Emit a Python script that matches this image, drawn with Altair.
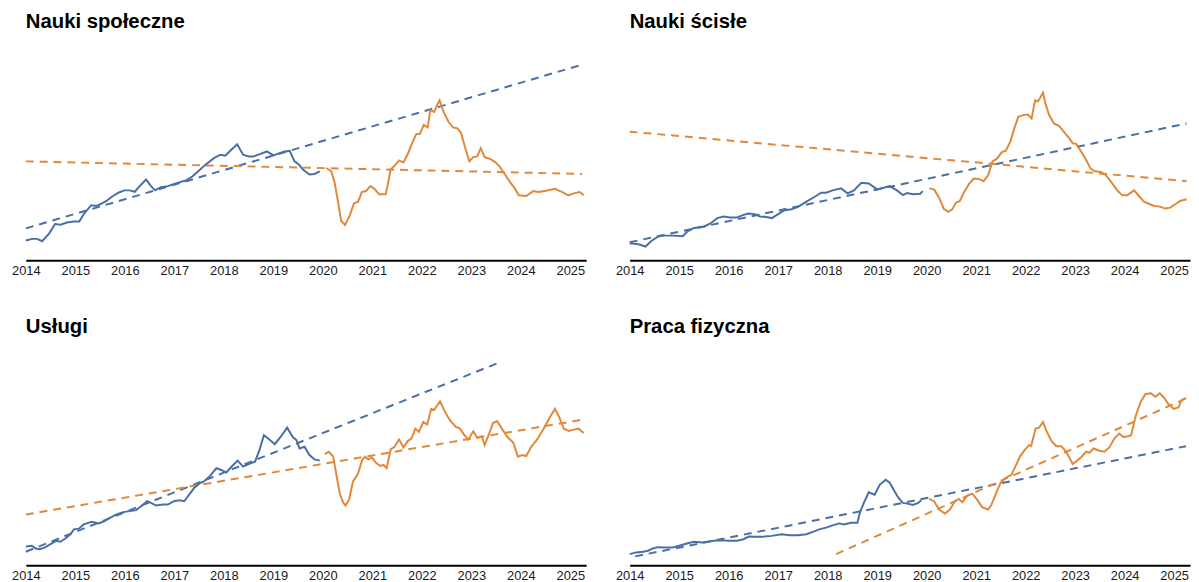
import altair as alt
import pandas as pd

YEARS = list(range(2014, 2026))
X_DOMAIN = [2014, 2025.32]
Y_DOMAIN = [-1, 214]
BLUE = "#4A6FA5"
ORANGE = "#E0893A"
FONT = "Liberation Sans"

# ---------------- Nauki społeczne ----------------
ns_blue_x = [2014.00, 2014.13, 2014.23, 2014.33, 2014.47, 2014.59, 2014.70, 2014.83, 2014.97, 2015.08,
             2015.17, 2015.32, 2015.43, 2015.53, 2015.63, 2015.73, 2015.87, 2015.99, 2016.10, 2016.20,
             2016.30, 2016.43, 2016.53, 2016.61, 2016.73, 2016.87, 2017.00, 2017.13, 2017.23, 2017.37,
             2017.50, 2017.63, 2017.80, 2017.93, 2018.03, 2018.13, 2018.27, 2018.39, 2018.50, 2018.60,
             2018.73, 2018.87, 2019.00, 2019.13, 2019.23, 2019.33, 2019.43, 2019.52, 2019.60, 2019.73,
             2019.83, 2019.94]
ns_blue_y = [19, 20.7, 20.7, 18.3, 26, 35.7, 35, 37.3, 38.3, 38.3,
             45.7, 54.7, 54, 56.3, 59, 63, 67.3, 69.7, 69.7, 68.3,
             74, 80.7, 74, 69.7, 73, 74, 76.3, 78.3, 79.7, 84,
             89.7, 95.7, 102.3, 105.7, 104.7, 109.7, 116.3, 105.7, 104, 104,
             106.3, 109, 105, 107.3, 109, 109.7, 99, 95.7, 90.7, 85.7,
             86.3, 89]
ns_orange_x = [2020.07, 2020.17, 2020.24, 2020.31, 2020.37, 2020.45, 2020.54, 2020.63, 2020.71, 2020.79,
               2020.87, 2020.96, 2021.04, 2021.14, 2021.27, 2021.32, 2021.37, 2021.47, 2021.54, 2021.63,
               2021.71, 2021.81, 2021.89, 2021.96, 2022.04, 2022.12, 2022.17, 2022.25, 2022.31, 2022.36,
               2022.44, 2022.54, 2022.63, 2022.72, 2022.79, 2022.87, 2022.96, 2023.04, 2023.12, 2023.19,
               2023.27, 2023.39, 2023.49, 2023.57, 2023.65, 2023.77, 2023.87, 2023.96, 2024.11, 2024.25,
               2024.36, 2024.51, 2024.69, 2024.84, 2024.96, 2025.07, 2025.19, 2025.27]
ns_orange_y = [92.3, 89, 77.3, 57.3, 39, 34.7, 44, 56.7, 58, 68,
               69, 74, 71.3, 65.7, 65.7, 77.3, 90.7, 95.7, 100, 98,
               105.7, 118, 126.7, 126.7, 135.7, 133.3, 150.7, 149, 155.7, 160.7,
               149, 139, 133.3, 132.3, 128, 114, 99, 103.3, 104, 112.3,
               103.3, 101.3, 98, 94, 88, 79, 72.3, 64.7, 64, 69,
               68, 69.3, 71.3, 68, 64.7, 66.7, 68, 64.7]
ns_blue_trend_x = [2014.0, 2025.24]
ns_blue_trend_y = [31.3, 196.7]
ns_orange_trend_x = [2014.0, 2025.24]
ns_orange_trend_y = [99, 86.3]

# ---------------- Nauki ścisłe ----------------
sc_blue_x = [2014.00, 2014.10, 2014.20, 2014.32, 2014.43, 2014.57, 2014.70, 2014.87, 2015.07, 2015.17,
             2015.30, 2015.50, 2015.63, 2015.77, 2015.90, 2016.03, 2016.17, 2016.30, 2016.40, 2016.53,
             2016.63, 2016.73, 2016.87, 2017.00, 2017.13, 2017.27, 2017.40, 2017.57, 2017.73, 2017.87,
             2017.97, 2018.10, 2018.27, 2018.40, 2018.53, 2018.68, 2018.83, 2019.00, 2019.13, 2019.25,
             2019.40, 2019.52, 2019.60, 2019.73, 2019.87, 2019.92]
sc_blue_y = [16.3, 15.7, 15, 13, 18.3, 23, 24, 24, 23.3, 28.3,
             31.7, 33, 36.3, 41.7, 43.3, 42.3, 42.3, 45, 46.3, 45.7,
             43.3, 43, 41.7, 45.7, 49.7, 50.7, 53, 58.3, 63, 67.3,
             67.3, 69.7, 71.7, 66.7, 69.7, 77.3, 76.7, 70.7, 72.3, 74,
             69.7, 65, 67, 65.7, 66.3, 69]
sc_orange_x = [2020.05, 2020.15, 2020.25, 2020.35, 2020.44, 2020.52, 2020.59, 2020.67, 2020.75, 2020.85,
               2020.95, 2021.05, 2021.15, 2021.24, 2021.33, 2021.42, 2021.52, 2021.60, 2021.69, 2021.77,
               2021.85, 2021.95, 2022.04, 2022.12, 2022.19, 2022.25, 2022.29, 2022.35, 2022.40, 2022.47,
               2022.57, 2022.67, 2022.77, 2022.89, 2022.95, 2023.02, 2023.12, 2023.22, 2023.31, 2023.40,
               2023.52, 2023.62, 2023.73, 2023.85, 2023.95, 2024.05, 2024.19, 2024.29, 2024.39, 2024.51,
               2024.60, 2024.71, 2024.82, 2024.92, 2025.02, 2025.12, 2025.25]
sc_orange_y = [71.7, 70.7, 62.3, 50.7, 48, 50.7, 57.3, 59, 67.3, 75.7,
               81.7, 81.3, 79, 85, 99, 101.7, 108.3, 109.7, 119, 132.3,
               144, 145.7, 146.3, 142.3, 160.7, 159.7, 163, 168.3, 157.3, 146.3,
               137.3, 135, 129, 121.7, 117.3, 116.7, 109, 100.7, 91.7, 89,
               88.3, 85, 78, 69.7, 64.7, 64.7, 69.7, 64, 58.3, 55.7,
               54, 53.3, 51.3, 52.3, 55.7, 59, 60.7]
sc_blue_trend_x = [2014.0, 2025.25]
sc_blue_trend_y = [17.3, 137.3]
sc_orange_trend_x = [2014.0, 2025.25]
sc_orange_trend_y = [129, 79]

# ---------------- Usługi ----------------
us_blue_x = [2014.00, 2014.12, 2014.20, 2014.28, 2014.39, 2014.50, 2014.61, 2014.70, 2014.80, 2014.90,
             2014.97, 2015.07, 2015.17, 2015.33, 2015.47, 2015.59, 2015.70, 2015.83, 2015.97, 2016.10,
             2016.23, 2016.33, 2016.45, 2016.53, 2016.63, 2016.77, 2016.87, 2016.99, 2017.10, 2017.20,
             2017.30, 2017.40, 2017.52, 2017.60, 2017.72, 2017.85, 2017.95, 2018.05, 2018.17, 2018.28,
             2018.39, 2018.50, 2018.63, 2018.72, 2018.81, 2018.92, 2019.03, 2019.17, 2019.28, 2019.39,
             2019.47, 2019.53, 2019.63, 2019.73, 2019.83, 2019.94]
us_blue_y = [18, 18.7, 16, 15.3, 17, 20.3, 23.7, 22.7, 26, 30.3,
             35.3, 36, 40.3, 43, 41.3, 43.7, 47, 50.3, 52.7, 53.7,
             54.7, 58.7, 63.7, 62, 59.3, 60.3, 60.3, 63.7, 64.7, 63.7,
             70.3, 77, 82, 83.7, 89.3, 97, 95.3, 92.7, 99.3, 104.7,
             98.7, 101.3, 103.7, 115.3, 130.3, 126, 121.3, 130.3, 138, 128.7,
             125.3, 117, 118.7, 110.3, 106, 104.7]
us_orange_x = [2020.04, 2020.12, 2020.21, 2020.27, 2020.34, 2020.41, 2020.46, 2020.53, 2020.61, 2020.71,
               2020.79, 2020.85, 2020.92, 2020.99, 2021.07, 2021.16, 2021.23, 2021.29, 2021.37, 2021.45,
               2021.54, 2021.63, 2021.72, 2021.79, 2021.87, 2021.94, 2022.03, 2022.11, 2022.19, 2022.25,
               2022.37, 2022.47, 2022.57, 2022.69, 2022.77, 2022.85, 2022.94, 2023.04, 2023.12, 2023.21,
               2023.27, 2023.36, 2023.44, 2023.52, 2023.63, 2023.74, 2023.85, 2023.94, 2024.03, 2024.11,
               2024.21, 2024.32, 2024.45, 2024.57, 2024.69, 2024.77, 2024.87, 2024.97, 2025.07, 2025.17,
               2025.27]
us_orange_y = [111.3, 113.7, 108.7, 92, 72, 62.7, 59.3, 65.3, 83.7, 91.3,
               104.7, 108.7, 106, 108, 102.7, 99.3, 100.3, 97, 116, 118.7,
               126, 118, 124.7, 127, 137, 133.7, 143.7, 141.3, 157, 156,
               164.7, 153.7, 145.3, 138.7, 137, 131.3, 126, 134.3, 127.7, 129.3,
               120.3, 132, 142.7, 144.7, 136, 128, 122.7, 108.7, 110.3, 109.3,
               118.7, 125.3, 136, 147, 157, 149.3, 137, 134.7, 136, 137,
               132.7]
us_blue_trend_x = [2014.0, 2023.61]
us_blue_trend_y = [12.7, 204.7]
us_orange_trend_x = [2014.0, 2025.24]
us_orange_trend_y = [50.3, 146]

# ---------------- Praca fizyczna ----------------
pf_blue_x = [2014.00, 2014.13, 2014.27, 2014.37, 2014.47, 2014.57, 2014.70, 2014.87, 2015.00, 2015.17,
             2015.30, 2015.47, 2015.57, 2015.70, 2015.83, 2016.00, 2016.17, 2016.30, 2016.40, 2016.53,
             2016.67, 2016.87, 2017.07, 2017.23, 2017.40, 2017.57, 2017.70, 2017.83, 2017.97, 2018.10,
             2018.23, 2018.33, 2018.47, 2018.60, 2018.65, 2018.73, 2018.83, 2018.95, 2019.05, 2019.17,
             2019.25, 2019.35, 2019.43, 2019.52, 2019.61, 2019.72, 2019.83, 2019.89]
pf_blue_y = [10.3, 12, 12.7, 13.7, 16, 17.3, 17, 17, 18.7, 21.3,
             22.7, 22, 22.7, 23.7, 24.3, 23.7, 23.7, 25.3, 28, 27.7,
             27.7, 28.7, 30.3, 29.3, 29.3, 30.3, 32.7, 35.3, 37, 39.3,
             41.3, 40.3, 42, 42, 52, 62, 72.7, 70.3, 80.3, 85.3,
             82.7, 73.7, 67, 62, 61.3, 60, 62, 64.7]
pf_orange_x = [2020.05, 2020.15, 2020.25, 2020.37, 2020.47, 2020.57, 2020.65, 2020.72, 2020.82, 2020.92,
               2021.02, 2021.12, 2021.24, 2021.31, 2021.39, 2021.49, 2021.59, 2021.71, 2021.79, 2021.89,
               2021.99, 2022.07, 2022.11, 2022.20, 2022.27, 2022.35, 2022.42, 2022.52, 2022.62, 2022.72,
               2022.82, 2022.95, 2023.04, 2023.13, 2023.22, 2023.29, 2023.37, 2023.49, 2023.59, 2023.69,
               2023.79, 2023.89, 2023.97, 2024.07, 2024.13, 2024.22, 2024.32, 2024.42, 2024.53, 2024.62,
               2024.71, 2024.80, 2024.89, 2024.99, 2025.09, 2025.15, 2025.24]
pf_orange_y = [66, 63.7, 55.3, 51.3, 55.3, 63.7, 66, 62.7, 69.3, 71.3,
               65.3, 57.7, 55.3, 60.3, 70.3, 82, 87, 90.3, 98.7, 109.3,
               116, 120.3, 119.3, 137, 138, 143.7, 134.7, 124.7, 119.3, 119.3,
               113.7, 101.3, 104.7, 108.7, 113.7, 112.7, 117, 114.7, 113.7, 118,
               127, 132, 128.7, 129.3, 130.3, 149.3, 163.7, 172, 172.7, 169.3,
               172.7, 168, 161.3, 157, 158.7, 166, 168]
pf_blue_trend_x = [2014.11, 2025.24]
pf_blue_trend_y = [8, 119.3]
pf_orange_trend_x = [2018.17, 2025.22]
pf_orange_trend_y = [10.3, 167]


def panel(title, bx, by, ox, oy, btx, bty, otx, oty):
    solid = pd.DataFrame({
        "rok": bx + ox,
        "wartosc": by + oy,
        "okres": ["przed"] * len(bx) + ["po"] * len(ox),
    })
    trend = pd.DataFrame({
        "rok": btx + otx,
        "wartosc": bty + oty,
        "okres": ["przed"] * len(btx) + ["po"] * len(otx),
    })
    x = alt.X(
        "rok:Q",
        scale=alt.Scale(domain=X_DOMAIN, nice=False, zero=False),
        axis=alt.Axis(
            values=YEARS, format="d", title=None, grid=False, ticks=False,
            domainColor="#000000", domainWidth=2, labelFlush=False,
            labelFont=FONT, labelFontSize=13, labelColor="#1a1a1a",
            labelPadding=4, labelOverlap=False,
        ),
    )
    y = alt.Y("wartosc:Q", scale=alt.Scale(domain=Y_DOMAIN, nice=False, zero=False), axis=None)
    color = alt.Color(
        "okres:N",
        scale=alt.Scale(domain=["przed", "po"], range=[BLUE, ORANGE]),
        legend=None,
    )
    trends = alt.Chart(trend).mark_line(strokeWidth=2, strokeDash=[8, 6]).encode(
        x=x, y=y, color=color, detail="okres:N"
    )
    lines = alt.Chart(solid).mark_line(strokeWidth=2).encode(
        x=x, y=y, color=color, detail="okres:N"
    )
    return alt.layer(trends, lines).properties(
        width=566,
        height=215,
        title=alt.TitleParams(
            text=title, anchor="start", frame="group", font=FONT, fontSize=20.5,
            fontWeight="bold", color="#000000", offset=15,
        ),
    )


p1 = panel("Nauki społeczne", ns_blue_x, ns_blue_y, ns_orange_x, ns_orange_y,
           ns_blue_trend_x, ns_blue_trend_y, ns_orange_trend_x, ns_orange_trend_y)
p2 = panel("Nauki ścisłe", sc_blue_x, sc_blue_y, sc_orange_x, sc_orange_y,
           sc_blue_trend_x, sc_blue_trend_y, sc_orange_trend_x, sc_orange_trend_y)
p3 = panel("Usługi", us_blue_x, us_blue_y, us_orange_x, us_orange_y,
           us_blue_trend_x, us_blue_trend_y, us_orange_trend_x, us_orange_trend_y)
p4 = panel("Praca fizyczna", pf_blue_x, pf_blue_y, pf_orange_x, pf_orange_y,
           pf_blue_trend_x, pf_blue_trend_y, pf_orange_trend_x, pf_orange_trend_y)

chart = alt.vconcat(
    alt.hconcat(p1, p2, spacing=27),
    alt.hconcat(p3, p4, spacing=27),
    spacing=40,
).properties(
    padding={"left": 3, "top": 1, "right": 0, "bottom": 0},
    background="white",
).configure_view(stroke=None)

chart.save("out.html", embed_options={"renderer": "svg", "actions": False})
